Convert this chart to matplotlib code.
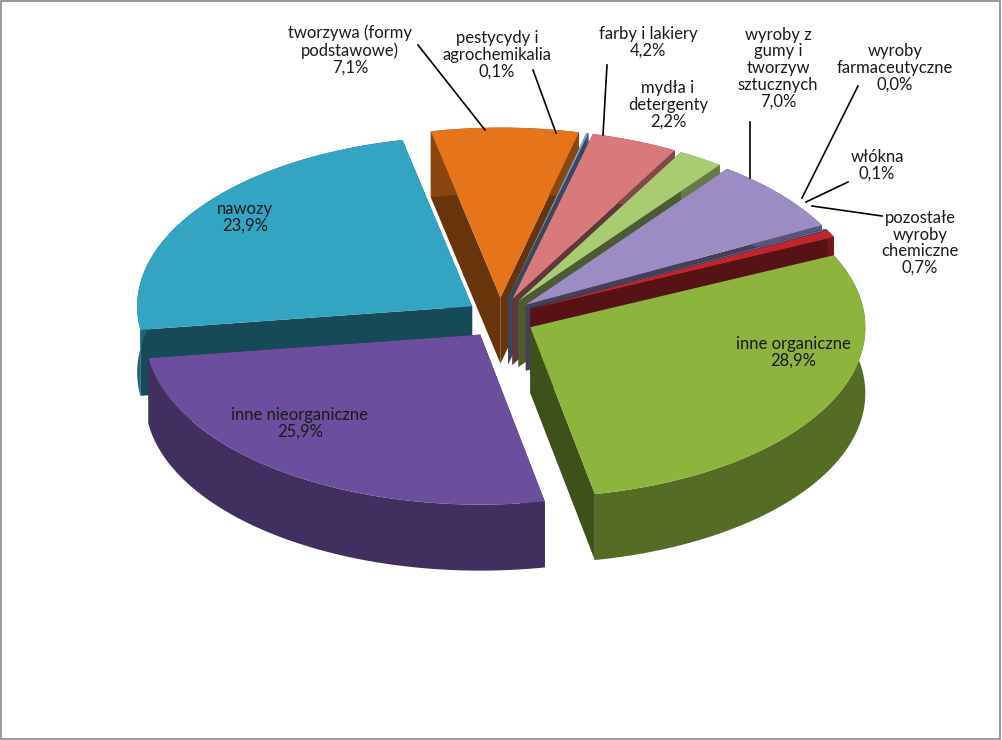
import numpy as np
import matplotlib
matplotlib.use("Agg")
import matplotlib.pyplot as plt
from matplotlib.patches import Polygon

categories = ["tworzywa (formy\npodstawowe)", "pestycydy i\nagrochemikalia", "farby i lakiery",
              "mydła i\ndetergenty", "wyroby z\ngumy i\ntworzyw\nsztucznych", "wyroby\nfarmaceutyczne",
              "włókna", "pozostałe\nwyroby\nchemiczne", "inne organiczne", "inne nieorganiczne", "nawozy"]
values = [7.1, 0.1, 4.2, 2.2, 7.0, 0.0, 0.1, 0.7, 28.9, 25.9, 23.9]
value_labels = ["7,1%", "0,1%", "4,2%", "2,2%", "7,0%", "0,0%", "0,1%", "0,7%", "28,9%", "25,9%", "23,9%"]
colors = ["#E6741A", "#7E9CCB", "#D87A7B", "#A9CB72", "#9C8CC4", "#2A3A66",
          "#4F7FBF", "#C0272D", "#8DB43C", "#6B4E9E", "#33A5C3"]

fig = plt.figure(figsize=(10.02, 7.4), dpi=100)
ax = fig.add_axes([0, 0, 1, 1])
ax.set_xlim(0, 1002); ax.set_ylim(740, 0); ax.axis("off")
fig.patches.append(plt.Rectangle((0.001, 0.001), 0.997, 0.997, transform=fig.transFigure,
                                 fill=False, edgecolor="#888888", lw=1.2))

cx, cy, A, B, D, EX = 500, 318, 335, 170, 66, 34
start = 102.0
tot = sum(values)

def dark(c, f):
    r = np.array(matplotlib.colors.to_rgb(c))
    return tuple(r * f)

wedges = []
ang = start
for v, c in zip(values, colors):
    span = 360 * v / tot
    t1, t0 = ang, ang - span
    ang = t0
    wedges.append((t0, t1, c))

order = sorted(range(len(wedges)), key=lambda i: np.sin(np.radians((wedges[i][0] + wedges[i][1]) / 2)), reverse=True)
for rank, i in enumerate(order):
    z = 1 + rank * 3
    t0, t1, c = wedges[i]
    mid = np.radians((t0 + t1) / 2)
    ox, oy = cx + EX * np.cos(mid), cy - EX * 0.6 * np.sin(mid)
    th = np.radians(np.linspace(t0, t1, max(3, int((t1 - t0) * 2) + 2)))
    xs, ys = ox + A * np.cos(th), oy - B * np.sin(th)
    for t in (t0, t1):
        r = np.radians(t)
        px, py = ox + A * np.cos(r), oy - B * np.sin(r)
        ax.add_patch(Polygon([(ox, oy), (px, py), (px, py + D), (ox, oy + D)],
                             closed=True, facecolor=dark(c, 0.45), edgecolor="none", zorder=z))
    side = list(zip(xs, ys)) + list(zip(xs[::-1], ys[::-1] + D))
    ax.add_patch(Polygon(side, closed=True, facecolor=dark(c, 0.6), edgecolor="none", zorder=z + 1))
    top = [(ox, oy)] + list(zip(xs, ys))
    ax.add_patch(Polygon(top, closed=True, facecolor=c, edgecolor="none", zorder=z + 2))

fs = 12
fam = ["Lato", "DejaVu Sans"]
lab = [(350, 50), (497, 55), (648, 42), (668, 105), (778, 68), (895, 68),
       (877, 165), (920, 243), (793, 352), (300, 423), (245, 217)]
for (x, y), cat, vl in zip(lab, categories, value_labels):
    ax.text(x, y, cat + "\n" + vl, ha="center", va="center", fontsize=fs, family=fam,
            color="#1a1a1a", linespacing=1.05, zorder=100)

lines = [((418, 45), (485, 130)), ((533, 70), (556, 133)), ((607, 65), (603, 135)),
         ((750, 122), (750, 178)), ((858, 86), (802, 198)), ((848, 182), (806, 202)),
         ((882, 216), (812, 206))]
for (a, b) in lines:
    ax.plot([a[0], b[0]], [a[1], b[1]], color="black", lw=1.2, zorder=99)

fig.savefig("out.png", dpi=100)
